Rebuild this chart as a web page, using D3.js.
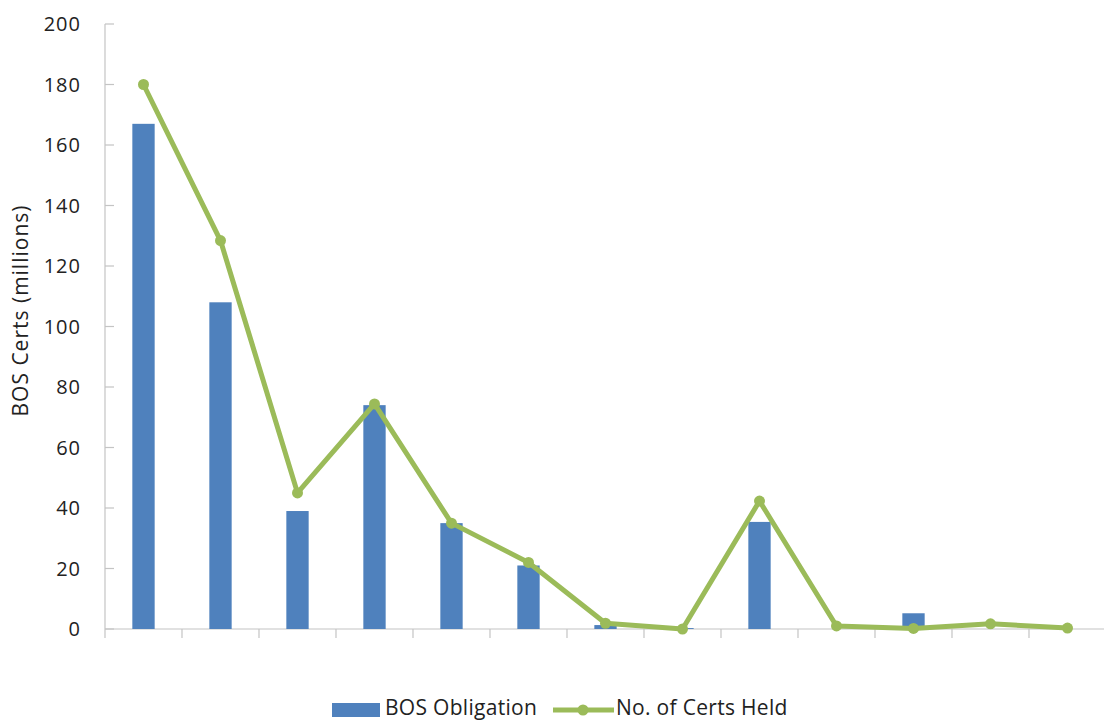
<!DOCTYPE html>
<html>
<head>
<meta charset="utf-8">
<script src="https://cdn.jsdelivr.net/npm/d3@7"></script>
<style>
  html, body { margin: 0; padding: 0; background: #ffffff; }
  svg { display: block; }
  text { font-family: "Open Sans", "Noto Sans", sans-serif; fill: #222; }
</style>
</head>
<body>
<svg id="chart" width="1104" height="722"></svg>
<script>
// Category slots along the x axis (labels left blank on the axis)
const categories = ["c1", "c2", "c3", "c4", "c5", "c6", "c7", "c8", "c9", "c10", "c11", "c12", "c13"];
// BOS obligation, millions of certificates
const bosObligation = [167, 108, 39, 74, 35, 21, 1.3, 0.3, 35.4, 0, 5.2, 0, 0];
// Number of certificates held, millions
const certsHeld = [180, 128.4, 45, 74.4, 35, 22, 1.9, 0, 42.3, 1, 0.2, 1.7, 0.3];
// Value-axis ticks
const yTicks = [0, 20, 40, 60, 80, 100, 120, 140, 160, 180, 200];
const seriesNames = ["BOS Obligation", "No. of Certs Held"];

const barColor = "#4f81bd";
const lineColor = "#9bbb59";
const axisColor = "#c4c4c4";

const svg = d3.select("#chart");
const plot = { left: 105, right: 1106, top: 24, bottom: 629 };

const x = d3.scaleBand().domain(categories).range([plot.left, plot.right]).padding(0);
const y = d3.scaleLinear().domain([0, 200]).range([plot.bottom, plot.top]);
const barW = x.bandwidth() * 0.29;

// Y axis: line, inward ticks, labels
const yAxis = svg.append("g");
yAxis.append("line")
  .attr("x1", plot.left).attr("x2", plot.left)
  .attr("y1", y(200)).attr("y2", plot.bottom)
  .attr("stroke", axisColor).attr("stroke-width", 1.2);
yAxis.selectAll("line.tick").data(yTicks).join("line")
  .attr("class", "tick")
  .attr("x1", plot.left).attr("x2", plot.left + 9)
  .attr("y1", d => y(d)).attr("y2", d => y(d))
  .attr("stroke", axisColor).attr("stroke-width", 1.2);
yAxis.selectAll("text").data(yTicks).join("text")
  .attr("x", 81).attr("y", d => y(d))
  .attr("dy", "0.36em")
  .attr("text-anchor", "end")
  .style("font-size", "20px")
  .style("letter-spacing", "1px")
  .text(d => d);

// Axis title
svg.append("text")
  .attr("transform", `translate(28, ${(plot.top + plot.bottom) / 2 - 16}) rotate(-90)`)
  .attr("text-anchor", "middle")
  .style("font-size", "21px")
  .style("letter-spacing", "1px")
  .text("BOS Certs (millions)");

// X axis: baseline and boundary ticks
const xAxis = svg.append("g");
xAxis.append("line")
  .attr("x1", plot.left).attr("x2", plot.right)
  .attr("y1", plot.bottom).attr("y2", plot.bottom)
  .attr("stroke", axisColor).attr("stroke-width", 1.2);
const boundaries = categories.map(c => x(c)).concat([x(categories[categories.length - 1]) + x.bandwidth()]);
xAxis.selectAll("line.tick").data(boundaries).join("line")
  .attr("class", "tick")
  .attr("x1", d => d).attr("x2", d => d)
  .attr("y1", plot.bottom).attr("y2", plot.bottom + 9)
  .attr("stroke", axisColor).attr("stroke-width", 1.2);

// Bars
svg.append("g").selectAll("rect").data(bosObligation).join("rect")
  .attr("x", (d, i) => x(categories[i]) + x.bandwidth() / 2 - barW / 2)
  .attr("width", barW)
  .attr("y", d => y(d))
  .attr("height", d => y(0) - y(d))
  .attr("fill", barColor);

// Line series
const line = d3.line()
  .x((d, i) => x(categories[i]) + x.bandwidth() / 2)
  .y(d => y(d));
svg.append("path")
  .datum(certsHeld)
  .attr("d", line)
  .attr("fill", "none")
  .attr("stroke", lineColor)
  .attr("stroke-width", 5)
  .attr("stroke-linejoin", "round");
svg.append("g").selectAll("circle").data(certsHeld).join("circle")
  .attr("cx", (d, i) => x(categories[i]) + x.bandwidth() / 2)
  .attr("cy", d => y(d))
  .attr("r", 5.5)
  .attr("fill", lineColor);

// Legend
const legend = svg.append("g");
legend.append("rect")
  .attr("x", 332).attr("y", 703).attr("width", 48).attr("height", 14)
  .attr("fill", barColor);
legend.append("text")
  .attr("x", 385).attr("y", 715)
  .style("font-size", "21px")
  .style("letter-spacing", "0.3px")
  .text(seriesNames[0]);
legend.append("line")
  .attr("x1", 553).attr("x2", 614).attr("y1", 710).attr("y2", 710)
  .attr("stroke", lineColor).attr("stroke-width", 5);
legend.append("circle")
  .attr("cx", 583).attr("cy", 710).attr("r", 5.5)
  .attr("fill", lineColor);
legend.append("text")
  .attr("x", 616).attr("y", 715)
  .style("font-size", "21px")
  .style("letter-spacing", "0.3px")
  .text(seriesNames[1]);
</script>
</body>
</html>
